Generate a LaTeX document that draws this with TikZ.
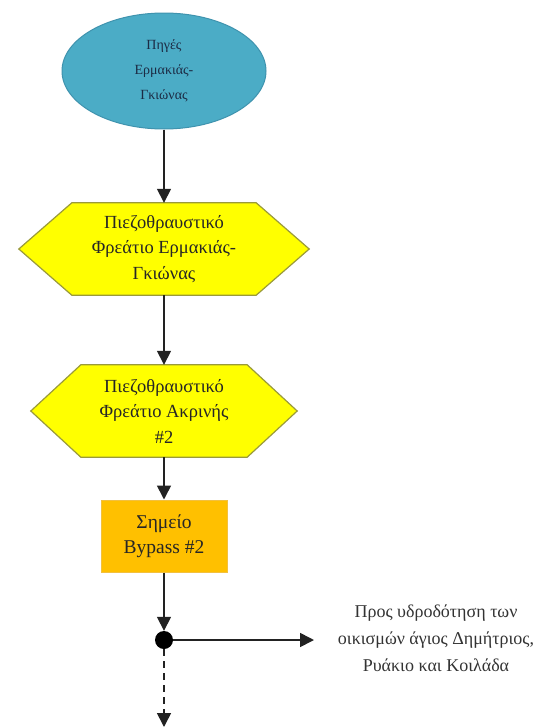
\documentclass[tikz,border=0pt]{standalone}
\usepackage{fontspec}
\setmainfont{Liberation Serif}
\usetikzlibrary{arrows.meta,shapes.geometric}
\pgfdeclarelayer{background}
\pgfsetlayers{background,main}

\definecolor{srcfill}{HTML}{4BACC6}
\definecolor{srcline}{HTML}{3F93AE}
\definecolor{srctext}{HTML}{1C2B44}
\definecolor{hexfill}{HTML}{FFFF00}
\definecolor{hexline}{HTML}{9A9A3A}
\definecolor{bpfill}{HTML}{FFC000}
\definecolor{bpline}{HTML}{F2C040}
\definecolor{ink}{HTML}{222222}

\tikzset{
  srcnode/.style={ellipse, fill=srcfill, draw=srcline, line width=1pt,
    minimum width=204pt, minimum height=116pt, inner sep=0pt, align=center,
    text=srctext, font=\fontsize{14}{25}\selectfont},
  hexbox/.style={rectangle, minimum height=92pt,
    inner sep=0pt, align=center, text=black!85,
    font=\fontsize{18.5}{25.5}\selectfont},
  hexshape/.style={fill=hexfill, draw=hexline, line width=1.2pt, line join=miter},
  bpbox/.style={rectangle, fill=bpfill, draw=bpline, line width=1pt,
    minimum width=126pt, minimum height=72pt, inner sep=0pt, align=center,
    text=black!85, font=\fontsize{19.5}{25.5}\selectfont},
  junction/.style={circle, fill=black, minimum size=18pt, inner sep=0pt},
  flow/.style={draw=ink, line width=1.6pt, -{Triangle[length=14pt,width=14pt]}},
  note/.style={align=center, text=black!80, font=\fontsize{18}{27}\selectfont}
}

\begin{document}
\begin{tikzpicture}[x=1pt,y=-1pt]
\useasboundingbox (0,0) rectangle (546,728);

% source
\node[srcnode] (src) at (164,71) {Πηγές\\Ερμακιάς-\\Γκιώνας};

% pressure-break chambers
\node[hexbox, minimum width=290pt] (h1) at (164,249) {Πιεζοθραυστικό\\Φρεάτιο Ερμακιάς-\\Γκιώνας};
\node[hexbox, minimum width=266pt] (h2) at (164,411) {Πιεζοθραυστικό\\Φρεάτιο Ακρινής\\\#2};

\begin{pgfonlayer}{background}
  \foreach \n/\s in {h1/53pt,h2/50pt} {
    \path[hexshape] (\n.west) -- ([xshift=\s]\n.north west)
      -- ([xshift=-\s]\n.north east) -- (\n.east)
      -- ([xshift=-\s]\n.south east) -- ([xshift=\s]\n.south west) -- cycle;
  }
\end{pgfonlayer}

% bypass point
\node[bpbox] (bp) at (164,536) {Σημείο\\Bypass \#2};

% branching junction
\node[junction] (j) at (164,640) {};
\coordinate (east) at (314,640);
\coordinate (down) at (164,727);

\node[note] (dest) at (436,638) {Προς υδροδότηση των\\οικισμών άγιος Δημήτριος,\\Ρυάκιο και Κοιλάδα};

% connectors
\draw[flow] (src.south) -- (h1.north);
\draw[flow] (h1.south) -- (h2.north);
\draw[flow] (h2.south) -- (bp.north);
\draw[flow] (bp.south) -- (j.north);
\draw[flow] (j.east) -- (east);
\draw[flow, dash pattern=on 7pt off 5pt] (j.south) -- (down);
\end{tikzpicture}
\end{document}
